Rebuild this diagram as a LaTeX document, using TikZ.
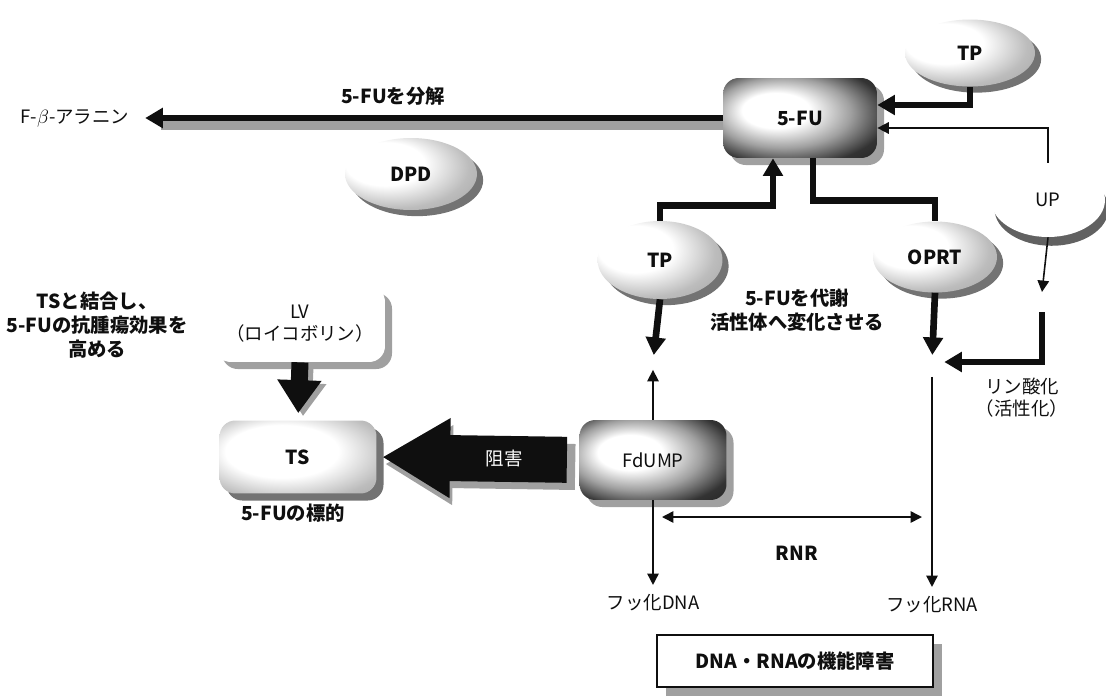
\documentclass[tikz,border=0pt]{standalone}
\usepackage{fontspec}
\setmainfont{Noto Sans CJK JP}
\usepackage{tikz}
\usetikzlibrary{arrows.meta,calc,shadows,shapes.geometric}
\usepackage{xcolor}
\definecolor{inkblack}{RGB}{15,15,15}
\definecolor{halftone}{RGB}{160,160,160}
\definecolor{shadegrey}{RGB}{80,80,80}
\pgfdeclareradialshading{enzymeshade}{\pgfpoint{-14bp}{10bp}}{color(0bp)=(white); color(15bp)=(white); color(28bp)=(halftone!70); color(40bp)=(halftone); color(50bp)=(shadegrey!80)}
\pgfdeclareradialshading{darkshade}{\pgfpoint{-10bp}{6bp}}{color(0bp)=(white); color(11bp)=(white); color(22bp)=(halftone); color(32bp)=(inkblack!85); color(50bp)=(inkblack)}
\pgfdeclareradialshading{lightshade}{\pgfpoint{-8bp}{6bp}}{color(0bp)=(white); color(18bp)=(white); color(32bp)=(halftone!70); color(50bp)=(halftone!90!black)}

\begin{document}
\begin{tikzpicture}[x=0.02cm,y=-0.02cm,
    lbl/.style={font=\fontsize{11}{13.5}\selectfont\bfseries,text=inkblack,align=center},
    txt/.style={font=\fontsize{10.5}{12.5}\selectfont,text=inkblack,align=center},
    enzyme/.style={ellipse,shade,shading=enzymeshade,inner sep=0pt,
      drop shadow={shadow xshift=3.5pt,shadow yshift=-3.5pt,fill=shadegrey,opacity=.8}},
    darkbox/.style={rectangle,rounded corners=9pt,shade,shading=darkshade,inner sep=0pt,
      drop shadow={shadow xshift=4pt,shadow yshift=-4pt,fill=halftone,opacity=1}},
    lightbox/.style={rectangle,rounded corners=9pt,shade,shading=lightshade,inner sep=0pt,
      drop shadow={shadow xshift=4pt,shadow yshift=-4pt,fill=shadegrey,opacity=.8}},
    halo/.style={draw=halftone},
    fat/.style={draw=inkblack,line width=3.8pt},
    fatarrow/.style={fat,-{Triangle[length=10pt,width=11pt]}},
    thinarrow/.style={draw=inkblack,line width=0.9pt,-{Triangle[length=6.5pt,width=6.5pt]}}]
  \useasboundingbox (0,0) rectangle (1106,700);

  % Top row: 5-FU and its breakdown
  \node[darkbox,lbl,minimum width=3.08cm,minimum height=1.6cm] (fu) at (800,118) {5-FU};
  \node[txt] (ala) at (75,118) {F-$\beta$-アラニン};
  \node[lbl] (bunkai) at (393,96) {5-FUを分解};
  \node[enzyme,lbl,minimum width=2.64cm,minimum height=1.44cm] (dpd) at (411,174) {DPD};
  \node[enzyme,lbl,minimum width=2.6cm,minimum height=1.34cm] (tpa) at (970,53) {TP};
  \node[ellipse,fill=white,txt,minimum width=2.28cm,minimum height=1.48cm,
    drop shadow={shadow xshift=2pt,shadow yshift=-5pt,fill=shadegrey,opacity=.9}] (up) at (1048,200) {UP};

  % Activation enzymes
  \node[enzyme,lbl,minimum width=2.5cm,minimum height=1.56cm] (tpb) at (660,260) {TP};
  \node[enzyme,lbl,minimum width=2.48cm,minimum height=1.42cm] (oprt) at (935,257) {OPRT};
  \node[lbl] (taisha) at (797,310) {5-FUを代謝\\活性体へ変化させる};
  \node[txt] (rinsan) at (1022,398) {リン酸化\\（活性化）};

  % Metabolite points
  \coordinate (dnap) at (653,362);
  \coordinate (rnap) at (932,362);
  \coordinate (upa) at (1042,292);
  \coordinate (upb) at (1042,312);
  \coordinate (rnrl) at (662,517);
  \coordinate (rnrr) at (922,517);

  % Left part: LV and TS
  \node[lbl] (ketsugo) at (97,325) {TSと結合し、\\5-FUの抗腫瘍効果を\\高める};
  \node[rectangle,rounded corners=9pt,fill=white,txt,minimum width=3.4cm,minimum height=1.52cm,
    drop shadow={shadow xshift=4pt,shadow yshift=-4pt,fill=halftone,opacity=1}] (lv) at (300,324) {LV\\（ロイコボリン）};
  \node[lightbox,lbl,minimum width=3.14cm,minimum height=1.46cm] (ts) at (298,457) {TS};
  \node[lbl] (hyoteki) at (293,513) {5-FUの標的};

  % Bottom part
  \node[darkbox,txt,minimum width=2.94cm,minimum height=1.6cm] (fdump) at (653,460) {FdUMP};
  \node[txt] (dna) at (653,603) {フッ化DNA};
  \node[txt] (rna) at (932,605) {フッ化RNA};
  \node[lbl] (rnr) at (797,553) {RNR};
  \node[lbl,draw=inkblack,line width=1.6pt,fill=white,minimum width=5.52cm,minimum height=1.04cm,
    drop shadow={shadow xshift=5pt,shadow yshift=-5pt,fill=halftone,opacity=1}] (shogai) at (795,661) {DNA・RNAの機能障害};

  % Grey halos under the heavy connectors
  \draw[halo,line width=6pt] ($(fu.west)+(0,7)$) -- ($(ala.east)+(25,7)$);
  \draw[halo,line width=0.34cm,-{Triangle[length=0.66cm,width=0.84cm]}] ($(lv.south)+(5,4)$) -- ($(ts.north)+(5,-4)$);
  \draw[halo,line width=0.92cm,-{Triangle[length=1.36cm,width=1.5cm]}] ($(fdump.west)+(-4,7)$) -- ($(ts.east)+(8,7)$);

  % Connectors
  \draw[fatarrow,shorten >=5.5pt] (fu.west) -- (ala.east);
  \draw[fatarrow] (tpa.south) |- ($(fu.east)+(0,-13)$);
  \draw[thinarrow] (up.north) |- ($(fu.east)+(0,10)$);
  \draw[fatarrow] (tpb.north) -- ++(0,-15) -| ($(fu.south)+(-27,0)$);
  \draw[fat] ($(fu.south)+(13,0)$) -- ++(0,42) -| (oprt.north);
  \draw[fatarrow,shorten >=4pt] (tpb.south) -- (dnap);
  \draw[fatarrow,shorten >=4pt] (oprt.south) -- (rnap);
  \draw[thinarrow] (up.south) -- (upa);
  \draw[fatarrow,shorten >=7pt] (upb) |- (rnap);
  \draw[thinarrow,shorten >=4.5pt] (fdump.north) -- (dnap);
  \draw[thinarrow,shorten <=8.5pt,shorten >=2pt] (rnap) -- (rna.north);
  \draw[thinarrow,shorten >=2pt] (fdump.south) -- (dna.north);
  \draw[draw=inkblack,line width=0.9pt,{Triangle[length=6.5pt,width=6.5pt]}-{Triangle[length=6.5pt,width=6.5pt]}] (rnrl) -- (rnrr);
  \draw[draw=inkblack,line width=0.34cm,shorten >=4pt,-{Triangle[length=0.66cm,width=0.84cm]}] (lv.south) -- (ts.north);
  \draw[draw=inkblack,line width=0.92cm,shorten <=7pt,shorten >=3pt,-{Triangle[length=1.36cm,width=1.5cm]}] (fdump.west) -- (ts.east)
    node[pos=0.37,txt,text=white] (sogai) {阻害};
\end{tikzpicture}
\end{document}
